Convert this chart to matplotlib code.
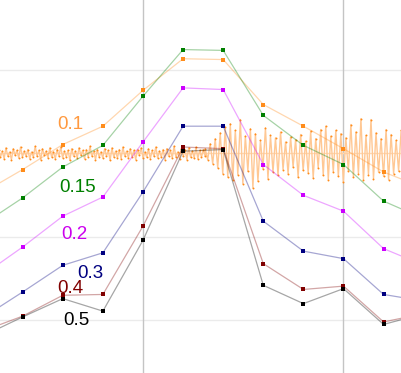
import matplotlib
matplotlib.use("Agg")
import matplotlib.pyplot as plt
import numpy as np

plt.rcParams['font.family'] = ['Liberation Sans', 'DejaVu Sans']

# x positions of the samples (grid lines fall on 3 and 8)
steps = [-1, 0, 1, 2, 3, 4, 5, 6, 7, 8, 9, 10]

s01 = [15.3, 18.1, 21.1, 23.3, 27.6, 31.4, 31.3, 25.9, 23.3, 20.6, 17.8, 15.9]
s015 = [11.5, 14.7, 18.4, 21.0, 26.9, 32.5, 32.4, 24.6, 21.0, 18.7, 14.3, 12.2]
s02 = [5.4, 8.8, 12.5, 14.8, 21.4, 27.9, 27.7, 18.7, 15.0, 13.1, 8.6, 6.6]
s03 = [0.3, 3.4, 6.6, 8.1, 15.4, 23.3, 23.3, 11.9, 8.3, 7.4, 3.1, 2.3]
s04 = [-1.3, 0.5, 3.0, 3.1, 11.3, 20.8, 20.6, 6.8, 3.7, 4.1, -0.2, 0.8]
s05 = [-1.9, 0.4, 2.6, 1.1, 9.6, 20.3, 20.5, 4.2, 2.0, 3.8, -0.5, 0.8]

labels = ["0.1", "0.15", "0.2", "0.3", "0.4", "0.5"]
colors = ["#ff8c1a", "#008000", "#cc00ff", "#000080", "#800000", "#000000"]
label_col = ["#ff9a40", "#008000", "#cc00ee", "#000080", "#800000", "#000000"]
label_pos = [(1.18, 23.5), (1.36, 15.95), (1.30, 10.3), (1.68, 5.6), (1.18, 3.8), (1.33, -0.02)]

# noisy trace, quiet part then loud part
noise_quiet = [
    20.5, 19.6, 20.3, 19.4, 20.7, 19.7, 20.2, 19.3, 20.6, 19.8, 20.4, 19.5,
    20.8, 19.6, 20.3, 19.7, 20.5, 19.4, 20.2, 19.6, 20.9, 19.7, 20.4, 19.3,
    20.6, 19.8, 20.3, 19.5, 20.7, 19.6, 20.2, 19.4, 20.5, 19.7, 20.8, 19.5,
    20.3, 19.6, 20.4, 19.2, 20.6, 19.7, 20.3, 19.5, 20.7, 19.8, 20.4, 19.4,
    20.5, 19.6, 20.9, 19.7, 20.3, 19.3, 20.5, 19.6, 20.2, 19.5, 20.6, 19.7,
    20.4, 19.2, 20.7, 19.6, 20.3, 19.5, 20.5, 19.4, 20.8, 19.7, 20.3, 19.5,
    20.6, 19.6, 20.4, 19.3, 20.5, 19.8, 20.7, 19.5, 20.2, 19.6, 20.6, 19.4,
    20.4, 19.7, 20.8, 19.5, 20.3, 19.6, 20.5, 19.3, 20.6, 19.7, 20.4, 19.5,
    20.9, 19.6, 20.2, 19.4, 20.6, 19.7, 20.5, 19.3, 20.7, 19.6, 20.3, 19.5,
    20.8, 19.4, 20.4, 19.6, 20.5, 19.7,
]
noise_loud = [
    20.6, 19.3, 21.2, 18.8, 21.8, 18.3, 22.5, 17.6, 23.2, 17.2, 23.6, 16.9,
    22.8, 17.5, 24.1, 16.4, 22.1, 17.9, 23.0, 15.9, 22.4, 16.7, 21.6, 18.2,
    23.1, 17.0, 22.2, 17.8, 21.9, 17.4, 22.6, 18.1, 21.4, 17.6, 22.0, 18.4,
    21.7, 17.2, 22.3, 18.0, 21.5, 17.7, 22.7, 17.1, 21.8, 18.3, 22.9, 17.4,
    23.3, 16.9, 22.1, 17.8, 22.8, 17.3, 22.4, 16.6, 21.9, 17.9, 23.5, 17.2,
    22.6, 17.6, 24.2, 16.8, 22.2, 17.5, 24.1, 17.0, 22.5, 17.8, 21.8, 17.3,
    22.9, 16.9, 22.3, 17.6, 21.6, 17.9, 22.8, 17.4,
]
noise_level = 20.05

fig = plt.figure(figsize=(4.02, 3.73), dpi=100)
ax = fig.add_axes([0, 0, 1, 1])

for yy in [0, 10, 30]:
    ax.axhline(yy, color="#ebebeb", lw=1, zorder=0)
for xx in [3, 8]:
    ax.axvline(xx, color="#c4c4c4", lw=1, zorder=0)
ax.axhline(noise_level, color="#ffd9b3", lw=1, zorder=1)

xq = np.linspace(-0.6, 4.55, len(noise_quiet))
xl = np.linspace(4.55, 9.5, len(noise_loud))
xn = np.concatenate([xq, xl])
yn = np.array(noise_quiet + noise_loud)
ax.plot(xn, yn, color="#ffc894", lw=1, zorder=2)
ax.plot(xn, yn, linestyle="none", marker="o", ms=1.4, mew=0, color="#ff8c1a", zorder=2)

series = [s01, s015, s02, s03, s04, s05]
for vals, c in zip(series, colors):
    ax.plot(steps, vals, color=c, alpha=0.35, lw=0.9, zorder=3)
    ax.plot(steps, vals, linestyle="none", marker="s", ms=2.3, mew=0, color=c, zorder=4)

for lab, c, (tx, ty) in zip(labels, label_col, label_pos):
    ax.text(tx, ty, lab, color=c, fontsize=13.5, ha="center", va="center", zorder=5)

ax.set_xlim(-0.566, 9.459)
ax.set_ylim(-6.33, 38.45)
ax.axis("off")

fig.savefig("out.png", dpi=100)
